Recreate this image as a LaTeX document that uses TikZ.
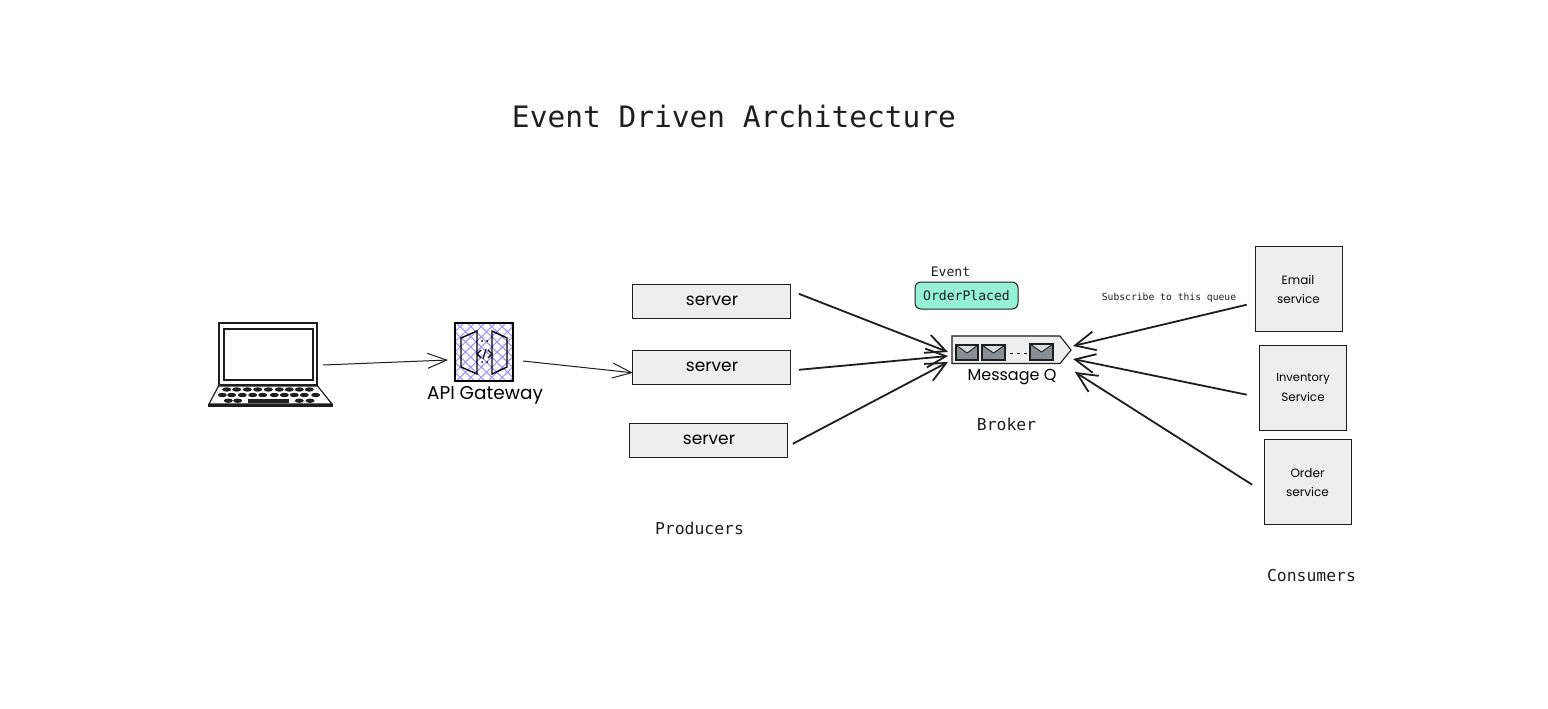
\documentclass[tikz,border=0pt]{standalone}
\usepackage{fontspec}
\usetikzlibrary{arrows.meta}
\setmainfont{DejaVu Sans Mono}
\newfontfamily\handfont{Poppins}
\definecolor{ink}{HTML}{1E1E1E}
\definecolor{boxfill}{HTML}{EEEEEE}
\definecolor{mint}{HTML}{96F2D7}
\definecolor{hatchc}{HTML}{A594F9}
\definecolor{envc}{HTML}{868E96}
\tikzset{
  every node/.style={inner sep=0pt,outer sep=0pt,text=ink},
  sbox/.style={draw=ink,fill=boxfill,line width=1.2pt,minimum width=#1,minimum height=34pt},
  svc/.style={draw=ink,fill=boxfill,line width=1.2pt,minimum width=87pt,minimum height=85pt},
  thin arrow/.style={draw=ink,line width=1pt,-{Straight Barb[length=19pt,width=15pt,line width=1pt]}},
  thick arrow/.style={draw=ink,line width=1.8pt,-{Straight Barb[length=20pt,width=19pt,line width=1.8pt]}},
  hand/.style={text=black,font=\handfont\fontsize{#1}{#1}\selectfont},
  mono/.style={font=\fontsize{#1}{#1}\selectfont},
  keycap/.style={fill=ink,draw=none},
}
\newcommand{\envelope}[4]{%
  \fill[envc] (#1,#2) rectangle (#3,#4);
  \fill[boxfill!80!envc] (#1,#2) -- ({(#1+#3)/2},{#2+8}) -- (#3,#2) -- cycle;
  \draw[ink,line width=1.3pt] (#1,#2) rectangle (#3,#4);
  \draw[ink,line width=.9pt] (#1,#2) -- ({(#1+#3)/2},{#2+8}) -- (#3,#2);
}
\begin{document}
\begin{tikzpicture}[x=1pt,y=-1pt]
\fill[white] (0,0) rectangle (1548,709);
\useasboundingbox (0,0) rectangle (1548,709);

\node[mono=29.5,anchor=center] (title) at (734,117) {Event Driven Architecture};

% laptop
\node[draw=ink,fill=white,line width=1.5pt,minimum width=98pt,minimum height=62pt] (laptop) at (268,354) {};
\draw[ink,line width=1.2pt] (224,329) rectangle (313,380);
\draw[ink,line width=1.2pt] (218.5,386) -- (317.5,386) -- (332,404) -- (209,404) -- cycle;
\draw[ink,line width=3pt] (208,405) -- (333,405);
\foreach \x in {226.7,236.7,247.3,257.7,268.3,279.3,289.3,299.3,309.3} \fill[keycap] (\x,389.5) ellipse (4.5 and 2.2);
\foreach \x in {222.3,231.7,242.3,252.7,262.7,274.3,284.3,294.3,304.3,315.7} \fill[keycap] (\x,395) ellipse (4.5 and 2.2);
\foreach \x in {228.3,237.7,299.3,310} \fill[keycap] (\x,400.7) ellipse (4.5 and 2.2);
\fill[keycap] (248,399) rectangle (288.5,402.5);

% gateway
\node[fill=white,minimum width=58pt,minimum height=58pt] (gate) at (484,352) {};
\begin{scope}
  \clip (455,323) rectangle (513,381);
  \foreach \k in {-4,...,11} {
    \draw[hatchc,line width=1.1pt] ({455+\k*10.5-30},323) -- ({455+\k*10.5+30},381);
    \draw[hatchc,line width=1.1pt] ({455+\k*10.5+30},323) -- ({455+\k*10.5-30},381);
  }
\end{scope}
\draw[black,line width=1.7pt] (455,323) rectangle (513,381);
\draw[black,line width=1.4pt] (477,331) -- (461,338) -- (461,367) -- (477,374) -- cycle;
\draw[black,line width=1.4pt] (492,331) -- (507,338) -- (507,367) -- (492,374) -- cycle;
\draw[black,line width=1.1pt] (481,350) -- (477,354) -- (481,358);
\draw[black,line width=1.1pt] (488,350) -- (492,354) -- (488,358);
\draw[black,line width=1.1pt] (486,349) -- (483,359);
\foreach \p in {(482,341),(487,341),(482,362),(487,362)} \fill[black] \p circle (1);
\node[hand=18.5] (gatelabel) at (485,395) {API Gateway};

% servers
\node[sbox=158pt] (s1) at (711.8,301.8) {};
\node[sbox=158pt] (s2) at (711.8,367.8) {};
\node[sbox=158pt] (s3) at (708.8,440.8) {};
\node[hand=17] (s1t) at (712,300.5) {server};
\node[hand=17] (s2t) at (712,366.5) {server};
\node[hand=17] (s3t) at (709,439.5) {server};
\node[mono=16.4] (producers) at (699.5,528) {Producers};

% queue
\node[minimum width=119pt,minimum height=28pt] (mq) at (1011.5,350) {};
\draw[ink,fill=boxfill,line width=1.1pt] (952,336) -- (1060,336) -- (1071,350) -- (1060,363.5) -- (952,363.5) -- cycle;
\envelope{956}{345}{978}{360}
\envelope{982}{345}{1005}{360}
\envelope{1030}{344}{1053}{360}
\draw[ink,line width=1pt,dash pattern=on 3pt off 4pt] (1010,353) -- (1029,353);
\node[hand=16] (mqlabel) at (1012,377) {Message Q};
\node[mono=16.4] (broker) at (1006.5,424) {Broker};

% event
\node[mono=13.1] (event) at (950.5,271.5) {Event};
\node[draw=ink,fill=mint,line width=1pt,rounded corners=6pt,minimum width=103pt,minimum height=27pt,mono=13.1] (order) at (966.5,295.5) {OrderPlaced};

% services
\node[svc] (email) at (1299.2,289.2) {};
\node[hand=12] (emailt1) at (1298,280) {Email};
\node[hand=12] (emailt2) at (1298.5,298.5) {service};
\node[svc] (inv) at (1303.2,388.2) {};
\node[hand=11.5] (invt1) at (1303,378.5) {Inventory};
\node[hand=12] (invt2) at (1303,396.5) {Service};
\node[svc] (ord) at (1307.7,482.2) {};
\node[hand=12] (ordt1) at (1307.5,473.5) {Order};
\node[hand=12] (ordt2) at (1307.5,491.5) {service};
\node[mono=16.4] (consumers) at (1311.5,576) {Consumers};
\node[mono=9.7] (sub) at (1169,298) {Subscribe to this queue};

% connectors
\draw[thin arrow] ([shift={(6,11)}]laptop.east) -- ([shift={(-7,8)}]gate.west);
\draw[thin arrow] ([shift={(10,9)}]gate.east) -- ([shift={(0,5)}]s2.west);
\draw[thick arrow] ([shift={(8,-8)}]s1.east) -- ([shift={(-4,2)}]mq.west);
\draw[thick arrow] ([shift={(8,2)}]s2.east) -- ([shift={(-4,6)}]mq.west);
\draw[thick arrow] ([shift={(5,3)}]s3.east) -- ([shift={(-4,12)}]mq.west);
\draw[thick arrow] ([shift={(-9,15.5)}]email.west) -- ([shift={(2,-4)}]mq.east);
\draw[thick arrow] ([shift={(-13,6.5)}]inv.west) -- ([shift={(2,9)}]mq.east);
\draw[thick arrow] ([shift={(-12,2.5)}]ord.west) -- ([shift={(4,22)}]mq.east);
\end{tikzpicture}
\end{document}
